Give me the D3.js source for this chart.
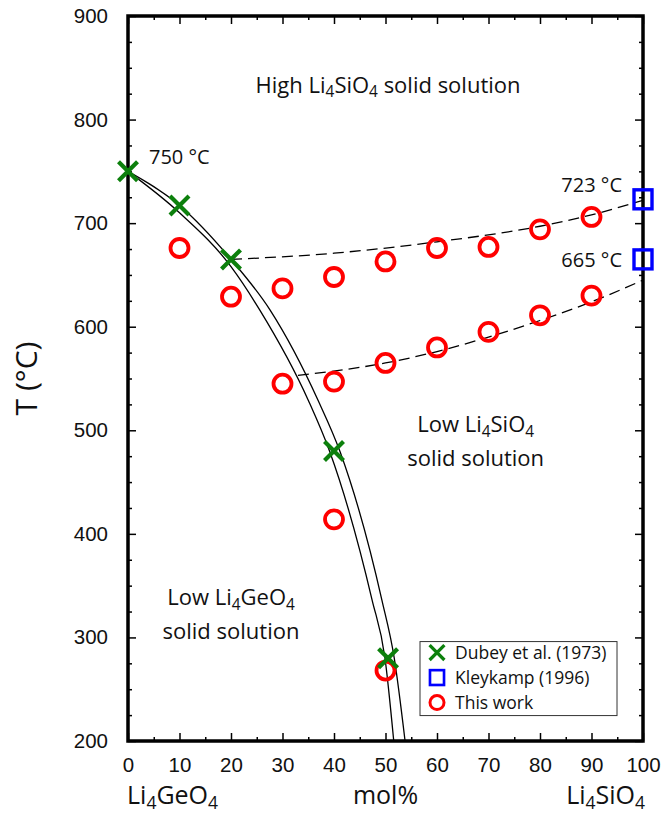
<!DOCTYPE html>
<html>
<head>
<meta charset="utf-8">
<script src="https://cdn.jsdelivr.net/npm/d3@7"></script>
<style>
  body { margin: 0; background: #fff; }
  svg { display: block; font-family: "Open Sans", sans-serif; }
</style>
</head>
<body>
<svg id="chart"></svg>
<script>
(() => {

  // tick values
  const xMajor = d3.range(0, 101, 10);
  const xMinor = d3.range(5, 100, 10);
  const yMajor = d3.range(200, 901, 100);
  const yMinor = d3.range(225, 900, 25).filter(v => v % 100 !== 0);

  // measured points [mol% Li4SiO4, T in °C]
  const dubey = [[0, 750], [10, 717], [20, 665], [40, 480], [50.5, 280]];
  const kleykamp = [[100, 723], [100, 665]];
  const thisWork = [
    [10, 676], [20, 629], [30, 637], [40, 648], [50, 663], [60, 676], [70, 677], [80, 694], [90, 706],
    [30, 545], [40, 547], [50, 565], [60, 580], [70, 595], [80, 611], [90, 630],
    [40, 414], [50, 268]
  ];

  // phase boundaries
  const solidusOuter = [[0, 750], [10, 717], [20, 665], [27.6, 616], [36.9, 529], [41.2, 479], [49.3, 336], [51.7, 280], [53.8, 200]];
  const solidusInner = [[0, 750], [10, 710], [20, 658], [25.6, 616], [35, 529], [39.2, 479], [47.4, 336], [49.9, 280], [51.6, 200]];
  const upperDashed = [[20, 665], [40, 671], [60, 682], [80, 697], [90, 708], [100, 722]];
  const lowerDashed = [[33, 553], [50, 565], [60, 576], [70, 590], [80, 606], [90, 624], [100, 645]];

  // annotations (x, t = where the text sits in data units)
  const tempLabels = [
    { x: 0, t: 757, text: '750 °C', side: 'right' },
    { x: 100, t: 730, text: '723 °C', side: 'left' },
    { x: 100, t: 657.5, text: '665 °C', side: 'left' }
  ];
  const regionLabels = [
    { x: 50.5, t: 826, lines: ['High Li_4SiO_4 solid solution'] },
    { x: 67.5, t: 498, lines: ['Low Li_4SiO_4', 'solid solution'] },
    { x: 20, t: 331, lines: ['Low Li_4GeO_4', 'solid solution'] }
  ];
  const legendItems = [
    { name: 'Dubey et al. (1973)', type: 'x' },
    { name: 'Kleykamp (1996)', type: 'square' },
    { name: 'This work', type: 'circle' }
  ];

  const svgWidth = 663;
  const svgHeight = 816;
  const margin = { top: 16, left: 128, right: 20, bottom: 75 };
  const width = svgWidth - (margin.left + margin.right);
  const height = svgHeight - (margin.top + margin.bottom);

  const colors = { x: '#0c800c', square: '#0000ff', circle: '#ff0000' };

  const svg = d3.select('#chart')
    .attr('width', svgWidth)
    .attr('height', svgHeight);

  const g = svg.append('g')
    .attr('transform', `translate(${margin.left}, ${margin.top})`);

  const xScale = d3.scaleLinear().domain([0, 100]).range([0, width]);
  const yScale = d3.scaleLinear().domain([200, 900]).range([height, 0]);

  // ---- ticks (inside) ----
  const tickAxis = (axisFn, values, size, transform, labels) => {
    const a = g.append('g')
      .attr('transform', transform)
      .call(axisFn.tickValues(values).tickSize(size).tickSizeOuter(0));
    a.select('.domain').remove();
    a.selectAll('line').attr('stroke', '#000').attr('stroke-width', 1.5);
    if (!labels) a.selectAll('text').remove();
    return a;
  };

  const xb = tickAxis(d3.axisBottom(xScale), xMajor, -8, `translate(0,${height})`, true);
  xb.selectAll('text').attr('font-size', 20.5).attr('fill', '#111').attr('dy', '0').attr('y', 31);
  tickAxis(d3.axisBottom(xScale), xMinor, -4, `translate(0,${height})`, false);
  tickAxis(d3.axisTop(xScale), xMajor, -8, 'translate(0,0)', false);
  tickAxis(d3.axisTop(xScale), xMinor, -4, 'translate(0,0)', false);

  const yl = tickAxis(d3.axisLeft(yScale), yMajor, -8, 'translate(0,0)', true);
  yl.selectAll('text').attr('font-size', 20.5).attr('fill', '#111').attr('x', -20);
  tickAxis(d3.axisLeft(yScale), yMinor, -4, 'translate(0,0)', false);
  tickAxis(d3.axisRight(yScale), yMajor, -8, `translate(${width},0)`, false);
  tickAxis(d3.axisRight(yScale), yMinor, -4, `translate(${width},0)`, false);

  // ---- curves ----
  svg.append('defs').append('clipPath').attr('id', 'plotClip')
    .append('rect').attr('width', width).attr('height', height);

  const line = d3.line()
    .x(d => xScale(d[0]))
    .y(d => yScale(d[1]))
    .curve(d3.curveMonotoneX);

  const curves = g.append('g').attr('clip-path', 'url(#plotClip)');
  [solidusOuter, solidusInner].forEach(c => {
    curves.append('path').attr('d', line(c))
      .attr('fill', 'none').attr('stroke', '#000').attr('stroke-width', 1.3);
  });
  [upperDashed, lowerDashed].forEach(c => {
    curves.append('path').attr('d', line(c))
      .attr('fill', 'none').attr('stroke', '#000').attr('stroke-width', 1.3)
      .attr('stroke-dasharray', '11,6');
  });

  // frame
  g.append('rect')
    .attr('width', width).attr('height', height)
    .attr('fill', 'none').attr('stroke', '#000').attr('stroke-width', 3.5);

  // ---- text helpers ----
  function richText(parent, x, y, str, size, anchor) {
    const t = parent.append('text')
      .attr('x', x).attr('y', y)
      .attr('font-size', size)
      .attr('text-anchor', anchor || 'middle')
      .attr('fill', '#111');
    const parts = str.split(/(_\d)/).filter(p => p.length);
    let shifted = false;
    parts.forEach(p => {
      if (p[0] === '_') {
        t.append('tspan').text(p.slice(1)).attr('font-size', size * 0.7).attr('dy', size * 0.2);
        shifted = true;
      } else {
        const ts = t.append('tspan').text(p);
        if (shifted) { ts.attr('dy', -size * 0.2); shifted = false; }
      }
    });
    return t;
  }

  // region labels
  regionLabels.forEach(r => {
    r.lines.forEach((s, i) => {
      richText(g, xScale(r.x), yScale(r.t) + i * 34, s, 22, 'middle');
    });
  });

  // temperature labels
  tempLabels.forEach(l => {
    g.append('text')
      .attr('x', xScale(l.x) + (l.side === 'right' ? 21 : -21))
      .attr('y', yScale(l.t))
      .attr('text-anchor', l.side === 'right' ? 'start' : 'end')
      .attr('font-size', 20)
      .attr('fill', '#111')
      .text(l.text);
  });

  // ---- markers ----
  const drawMarker = (sel, type) => {
    if (type === 'x') {
      sel.append('path').attr('d', 'M-9.5,-9.5L9.5,9.5M-9.5,9.5L9.5,-9.5')
        .attr('stroke', colors.x).attr('stroke-width', 4.2).attr('fill', 'none');
    } else if (type === 'square') {
      sel.append('rect').attr('x', -9).attr('y', -9.5).attr('width', 18).attr('height', 19)
        .attr('stroke', colors.square).attr('stroke-width', 3.4).attr('fill', 'none');
    } else {
      sel.append('circle').attr('r', 9)
        .attr('stroke', colors.circle).attr('stroke-width', 3.8).attr('fill', 'none');
    }
  };

  const pts = g.append('g');
  [[thisWork, 'circle'], [kleykamp, 'square'], [dubey, 'x']].forEach(([data, type]) => {
    pts.selectAll(null)
      .data(data)
      .enter()
      .append('g')
      .attr('transform', d => `translate(${xScale(d[0])},${yScale(d[1])})`)
      .each(function () { drawMarker(d3.select(this), type); });
  });

  // ---- legend ----
  const legend = g.append('g').attr('transform', `translate(${xScale(56.7)},${yScale(296)})`);
  legend.append('rect')
    .attr('width', 197).attr('height', 74)
    .attr('fill', '#fff').attr('stroke', '#333').attr('stroke-width', 1);
  legendItems.forEach((item, i) => {
    const row = legend.append('g').attr('transform', `translate(17,${11 + i * 25})`);
    const m = row.append('g').attr('transform', 'scale(0.78)');
    drawMarker(m, item.type);
    row.append('text')
      .attr('x', 18).attr('y', 0).attr('dy', '0.36em')
      .attr('font-size', 17.5).attr('fill', '#111')
      .text(item.name);
  });

  // ---- axis titles ----
  svg.append('text')
    .attr('transform', `translate(37,${margin.top + yScale(550)}) rotate(-90)`)
    .attr('text-anchor', 'middle')
    .attr('font-size', 30)
    .attr('fill', '#111')
    .text('T (°C)');

  const by = margin.top + height + 63;
  richText(svg, margin.left - 1, by, 'Li_4GeO_4', 25, 'start');
  richText(svg, margin.left + xScale(50), by, 'mol%', 25, 'middle');
  richText(svg, margin.left + width + 2, by, 'Li_4SiO_4', 25, 'end');

})();
</script>
</body>
</html>
